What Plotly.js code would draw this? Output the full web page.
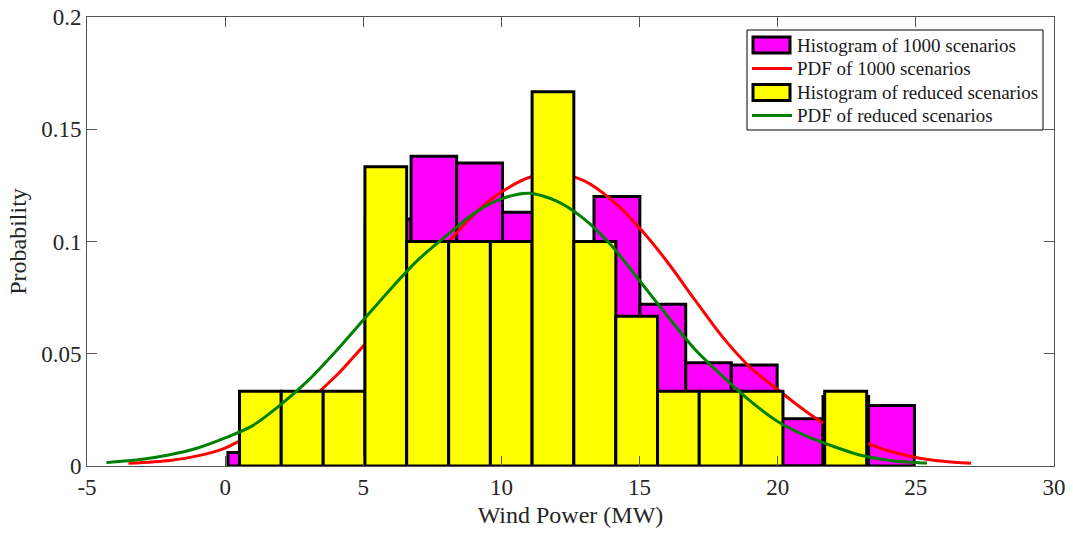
<!DOCTYPE html>
<html>
<head>
<meta charset="utf-8">
<script src="https://cdn.plot.ly/plotly-3.0.1.min.js"></script>
<style>html,body{margin:0;padding:0;background:#fff;}#chart{width:1073px;height:536px;}</style>
</head>
<body>
<div id="chart"></div>
<script>
// ---- Data ----
// Histogram of 1000 scenarios (bin edges and probabilities)
const fullEdges = [0.10, 1.76, 3.41, 5.07, 6.73, 8.38, 10.04, 11.70, 13.35, 15.01, 16.67, 18.32, 19.98, 21.64, 23.29, 24.95];
const fullProb  = [0.006, 0.015, 0.026, 0.110, 0.138, 0.135, 0.113, 0.095, 0.120, 0.072, 0.046, 0.045, 0.021, 0.031, 0.027];

// Histogram of reduced scenarios (bin edges and probabilities)
const redEdges = [0.52, 2.03, 3.55, 5.06, 6.57, 8.09, 9.60, 11.11, 12.62, 14.14, 15.65, 17.16, 18.68, 20.19, 21.70, 23.22];
const redProb  = [0.0333, 0.0333, 0.0333, 0.1333, 0.1, 0.1, 0.1, 0.1667, 0.1, 0.0667, 0.0333, 0.0333, 0.0333, 0, 0.0333];

// PDF of 1000 scenarios
const pdfFullX = [-3.5, -2, -1, 0, 0.5, 1, 2, 3, 4, 5, 6, 7, 8, 9, 10, 11, 12, 13, 14, 15, 16, 17, 18, 19, 20, 21, 22, 23, 24, 25, 26, 27];
const pdfFullY = [0.0012, 0.0025, 0.0045, 0.008, 0.011, 0.0135, 0.020, 0.029, 0.040, 0.0535, 0.068, 0.083, 0.0985, 0.112, 0.122, 0.1285, 0.1305, 0.127, 0.1184, 0.106, 0.091, 0.074, 0.0575, 0.044, 0.034, 0.0245, 0.0165, 0.0112, 0.0068, 0.0038, 0.0021, 0.0012];

// PDF of reduced scenarios
const pdfRedX = [-4.3, -3, -2, -1, 0, 1, 2, 3, 4, 5, 6, 7, 8, 9, 10, 11, 12, 13, 14, 15, 16, 17, 18, 19, 20, 21, 22, 23, 24, 25, 25.4];
const pdfRedY = [0.0015, 0.003, 0.005, 0.008, 0.0125, 0.018, 0.0272, 0.038, 0.051, 0.065, 0.079, 0.092, 0.1025, 0.1125, 0.119, 0.1215, 0.118, 0.110, 0.098, 0.0825, 0.067, 0.052, 0.040, 0.029, 0.0198, 0.0135, 0.0088, 0.0048, 0.0026, 0.0016, 0.0013];

const xTicks = [-5, 0, 5, 10, 15, 20, 25, 30];
const yTicks = [0, 0.05, 0.1, 0.15, 0.2];
const yTickText = ['0', '0.05', '0.1', '0.15', '0.2'];

const seriesNames = ['Histogram of 1000 scenarios', 'PDF of 1000 scenarios', 'Histogram of reduced scenarios', 'PDF of reduced scenarios'];
const seriesColors = ['#ff00ff', '#ff0000', '#ffff00', '#008000'];
const seriesKinds = ['bar', 'line', 'bar', 'line'];

// ---- Build traces ----
function centers(e){ const c=[]; for(let i=0;i<e.length-1;i++) c.push((e[i]+e[i+1])/2); return c; }
function widths(e){ const w=[]; for(let i=0;i<e.length-1;i++) w.push(e[i+1]-e[i]); return w; }

const serif = '"Liberation Serif", "Times New Roman", serif';

const traces = [
  {type:'bar', x:centers(fullEdges), y:fullProb, width:widths(fullEdges), name:seriesNames[0],
   marker:{color:seriesColors[0], line:{color:'#000', width:3}}, xaxis:'x', yaxis:'y'},
  {type:'scatter', mode:'lines', x:pdfFullX, y:pdfFullY, name:seriesNames[1],
   line:{color:seriesColors[1], width:3, shape:'spline', smoothing:0.8}, xaxis:'x', yaxis:'y'},
  {type:'bar', x:centers(redEdges), y:redProb, width:widths(redEdges), name:seriesNames[2],
   marker:{color:seriesColors[2], line:{color:'#000', width:3}}, xaxis:'x2', yaxis:'y2'},
  {type:'scatter', mode:'lines', x:pdfRedX, y:pdfRedY, name:seriesNames[3],
   line:{color:seriesColors[3], width:3, shape:'spline', smoothing:0.8}, xaxis:'x2', yaxis:'y2'}
];

// ---- Layout geometry ----
const W = 1073, H = 536;
const M = {l:87, r:19, t:17, b:70};
const PW = W - M.l - M.r, PH = H - M.t - M.b;
const px2x = p => (p - M.l) / PW;          // pixel -> paper x
const py2y = p => (H - M.b - p) / PH;      // pixel -> paper y

// Custom legend (wide swatches like the reference)
const shapes = [];
const annotations = [];
shapes.push({type:'rect', xref:'paper', yref:'paper', x0:px2x(747), x1:px2x(1043), y0:py2y(130), y1:py2y(30),
  line:{color:'#000', width:1}, fillcolor:'#fff', layer:'above'});
const rowY = [45, 68.5, 92.5, 115.5];
seriesNames.forEach((name, i) => {
  const cy = rowY[i];
  if (seriesKinds[i] === 'bar') {
    shapes.push({type:'rect', xref:'paper', yref:'paper', x0:px2x(753), x1:px2x(790), y0:py2y(cy+8), y1:py2y(cy-8),
      line:{color:'#000', width:3}, fillcolor:seriesColors[i], layer:'above'});
  } else {
    shapes.push({type:'line', xref:'paper', yref:'paper', x0:px2x(752), x1:px2x(792), y0:py2y(cy), y1:py2y(cy),
      line:{color:seriesColors[i], width:3}, layer:'above'});
  }
  annotations.push({xref:'paper', yref:'paper', x:px2x(795), y:py2y(cy), xanchor:'left', yanchor:'middle',
    text:name, showarrow:false, font:{family:serif, size:19, color:'#1a1a1a'}});
});

const axisCommon = {
  showline:true, mirror:'ticks', linecolor:'#555', linewidth:1,
  ticks:'inside', ticklen:10, tickcolor:'#555', tickwidth:1,
  showgrid:false, zeroline:false,
  tickfont:{family:serif, size:23, color:'#262626'}
};

const layout = {
  width:W, height:H,
  margin:M,
  paper_bgcolor:'#fff', plot_bgcolor:'#fff',
  showlegend:false,
  barmode:'overlay',
  xaxis:Object.assign({}, axisCommon, {
    range:[-5,30], tickvals:xTicks, ticktext:xTicks.map(String),
    title:{text:'Wind Power (MW)', font:{family:serif, size:24, color:'#262626'}, standoff:7}
  }),
  yaxis:Object.assign({}, axisCommon, {
    range:[0,0.2], tickvals:yTicks, ticktext:yTickText,
    title:{text:'Probability', font:{family:serif, size:24, color:'#262626'}, standoff:7}
  }),
  xaxis2:{overlaying:'x', range:[-5,30], visible:false, showgrid:false, zeroline:false},
  yaxis2:{overlaying:'y', range:[0,0.2], visible:false, showgrid:false, zeroline:false},
  shapes:shapes,
  annotations:annotations
};

Plotly.newPlot('chart', traces, layout, {displayModeBar:false, staticPlot:true});
</script>
</body>
</html>
